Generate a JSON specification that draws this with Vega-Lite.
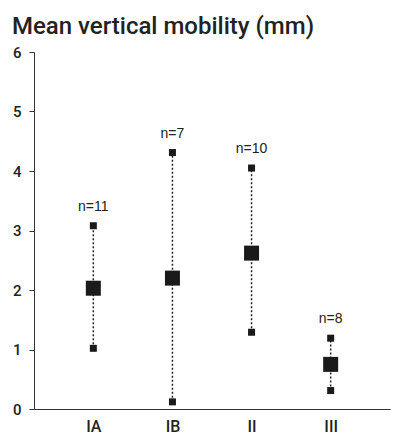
{
  "$schema": "https://vega.github.io/schema/vega-lite/v6.json",
  "width": 356,
  "height": 357,
  "autosize": "none",
  "padding": {"left": 34, "top": 52, "right": 3, "bottom": 26},
  "background": "white",
  "config": {
    "view": {"stroke": null},
    "font": "Roboto",
    "axis": {"grid": false, "domainColor": "#333", "tickColor": "#333", "labelColor": "#222", "labelFont": "Roboto", "labelFontWeight": 500, "labelFontSize": 15}
  },
  "title": {"text": "Mean vertical mobility (mm)", "anchor": "start", "frame": "group", "dx": -22, "offset": 6, "fontSize": 24, "fontWeight": 500, "color": "#222", "font": "Roboto"},
  "data": {"values": [
    {"group": "IA", "min": 1.02, "mean": 2.03, "max": 3.08, "label": "n=11"},
    {"group": "IB", "min": 0.12, "mean": 2.2, "max": 4.31, "label": "n=7"},
    {"group": "II", "min": 1.29, "mean": 2.62, "max": 4.05, "label": "n=10"},
    {"group": "III", "min": 0.31, "mean": 0.75, "max": 1.19, "label": "n=8"}
  ]},
  "encoding": {
    "x": {"field": "group", "type": "ordinal", "sort": null, "scale": {"type": "point", "padding": 0.75},
      "axis": {"title": null, "ticks": false, "labelAngle": 0, "labelPadding": 9, "labelFontSize": 16}}
  },
  "layer": [
    {"mark": {"type": "rule", "strokeDash": [2, 2], "strokeWidth": 1.5, "color": "#222"},
     "encoding": {"y": {"field": "min", "type": "quantitative", "scale": {"domain": [0, 6], "nice": false},
        "axis": {"title": null, "values": [0,1,2,3,4,5,6], "format": "d", "tickSize": 5, "labelPadding": 8}},
       "y2": {"field": "max"}}},
    {"mark": {"type": "point", "shape": "square", "filled": true, "size": 49, "color": "#1a1a1a", "opacity": 1},
     "encoding": {"y": {"field": "min", "type": "quantitative"}}},
    {"mark": {"type": "point", "shape": "square", "filled": true, "size": 49, "color": "#1a1a1a", "opacity": 1},
     "encoding": {"y": {"field": "max", "type": "quantitative"}}},
    {"mark": {"type": "point", "shape": "square", "filled": true, "size": 225, "color": "#1a1a1a", "opacity": 1},
     "encoding": {"y": {"field": "mean", "type": "quantitative"}}},
    {"mark": {"type": "text", "dy": -19, "fontSize": 14, "fontWeight": "normal", "color": "#222", "font": "Liberation Sans"},
     "encoding": {"y": {"field": "max", "type": "quantitative"}, "text": {"field": "label"}}}
  ]
}
